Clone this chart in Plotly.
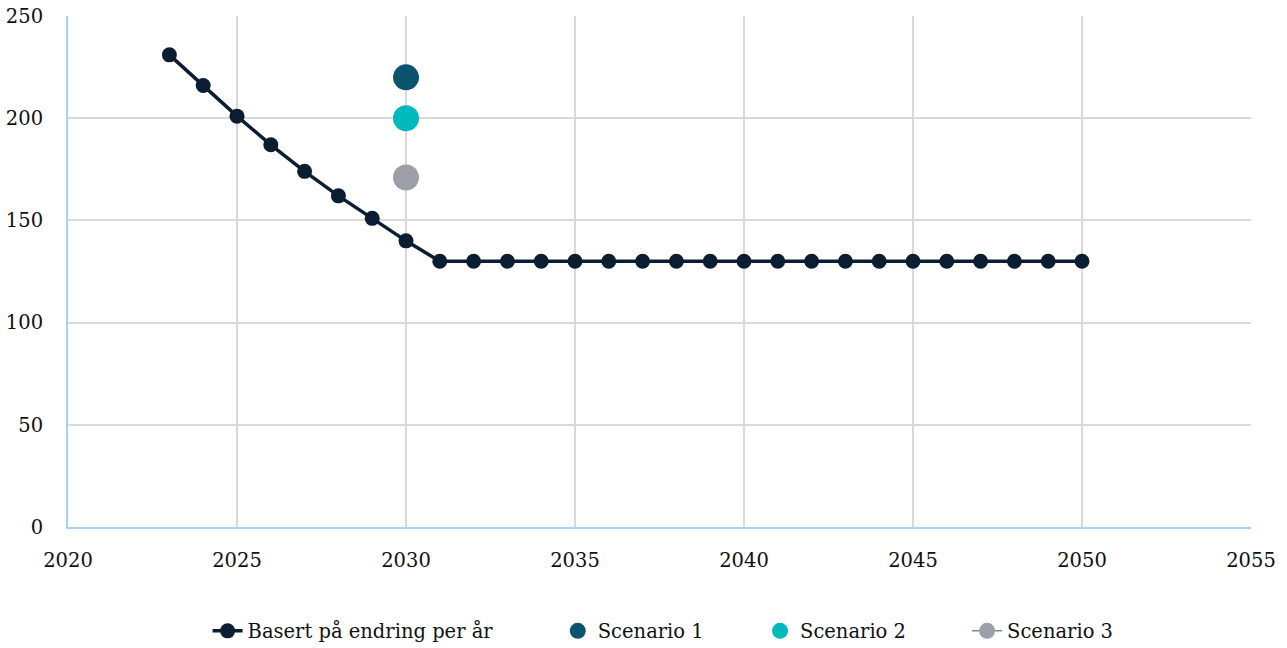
import plotly.graph_objects as go

# Baseline path: annual change until 2031, then flat to 2050
years = list(range(2023, 2051))
baseline = [231, 216, 201, 187, 174, 162, 151, 140] + [130] * 20

# Scenario estimates for 2030
scenario_year = [2030]
scenario_1 = [220]
scenario_2 = [200]
scenario_3 = [171]

x_ticks = [2020, 2025, 2030, 2035, 2040, 2045, 2050, 2055]
y_ticks = [0, 50, 100, 150, 200, 250]

FONT = "DejaVu Serif"
NAVY = "#0b1d30"

fig = go.Figure()
fig.add_trace(go.Scatter(
    x=years, y=baseline, mode="lines+markers", name="Basert på endring per år",
    line=dict(color=NAVY, width=3.5), marker=dict(color=NAVY, size=15),
    legend="legend"))
fig.add_trace(go.Scatter(
    x=scenario_year, y=scenario_1, mode="markers", name="Scenario 1",
    marker=dict(color="#0a5470", size=26), legend="legend2"))
fig.add_trace(go.Scatter(
    x=scenario_year, y=scenario_2, mode="markers", name="Scenario 2",
    marker=dict(color="#00b9bd", size=26), legend="legend3"))
fig.add_trace(go.Scatter(
    x=scenario_year, y=scenario_3, mode="lines+markers", name="Scenario 3",
    line=dict(color="#1d5a6e", width=1), marker=dict(color="#9d9ea8", size=26),
    legend="legend4"))

leg_common = dict(orientation="h", yref="container", yanchor="middle", y=0.026,
                  xanchor="left",
                  font=dict(family=FONT, size=19.5, color="#111"),
                  bgcolor="rgba(0,0,0,0)")

fig.update_layout(
    width=1287, height=648,
    margin=dict(l=68, r=36, t=16, b=121, autoexpand=False),
    paper_bgcolor="white", plot_bgcolor="white",
    font=dict(family=FONT, size=19.5, color="#111"),
    showlegend=True,
    legend=dict(x=0.118, **leg_common),
    legend2=dict(x=0.414, **leg_common),
    legend3=dict(x=0.585, **leg_common),
    legend4=dict(x=0.760, **leg_common),
)
fig.update_xaxes(
    range=[2020, 2055], tickvals=x_ticks, ticktext=[str(v) for v in x_ticks],
    showgrid=True, gridcolor="#d9d9d9", gridwidth=1.5,
    showline=True, linecolor="#a9d1f0", linewidth=2,
    zeroline=False, ticks="", ticklabelstandoff=15, automargin=False)
fig.update_yaxes(
    range=[0, 250], tickvals=y_ticks,
    showgrid=True, gridcolor="#d9d9d9", gridwidth=1.5,
    showline=True, linecolor="#a9d1f0", linewidth=2,
    zeroline=False, ticks="", ticklabelstandoff=19, automargin=False)

fig.write_html("out.html")
